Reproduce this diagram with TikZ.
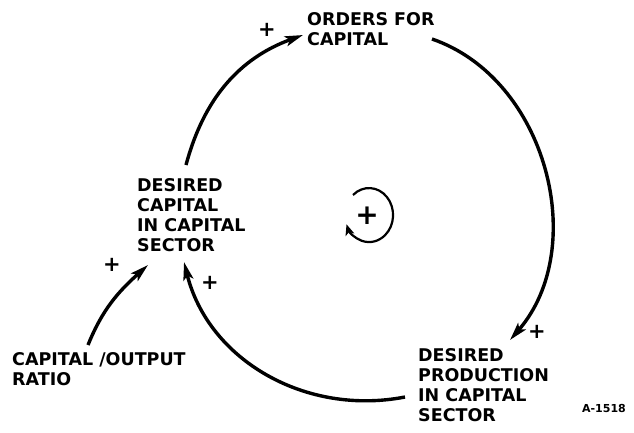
\documentclass[tikz,border=0pt]{standalone}
\usepackage{fontspec}
\setmainfont{DejaVu Sans}
\usetikzlibrary{arrows.meta}
\tikzset{
  >={Stealth[length=18pt,width=10pt,inset=4pt]},
  % text
  lbl/.style={anchor=north west,inner sep=0pt,align=left,
              font=\fontsize{17.5}{20}\selectfont\bfseries},
  sgn/.style={inner sep=0pt,font=\fontsize{21}{21}\selectfont\bfseries},
  tag/.style={inner sep=0pt,font=\fontsize{11}{11}\selectfont\bfseries},
  % pilar
  lnk/.style={->,draw=black,line width=3.4pt},
  ring/.style={-{Stealth[length=11pt,width=9pt,inset=3pt]},draw=black,line width=2.2pt},
}
\begin{document}
\begin{tikzpicture}[x=1pt,y=1pt]
  \useasboundingbox (0,0) rectangle (634,432);
  \node[lbl] (orders) at (307,420) {ORDERS FOR\\CAPITAL};
  \node[lbl] (dcap) at (137,254) {DESIRED\\CAPITAL\\IN CAPITAL\\SECTOR};
  \node[lbl] (ratio) at (12,80) {CAPITAL /OUTPUT\\RATIO};
  \node[lbl] (dprod) at (418,84) {DESIRED\\PRODUCTION\\IN CAPITAL\\SECTOR};
  \node[tag] (code) at (604,24) {A-1518};
  % ändpunkter på slingan
  \coordinate (p1) at (186,267);
  \coordinate (p2) at (303,397);
  \coordinate (p3) at (432,393);
  \coordinate (p4) at (510,92);
  \coordinate (p5) at (405,35);
  \coordinate (p6) at (184,170);
  \coordinate (r1) at (88,87);
  \coordinate (r2) at (148,167);
  \draw[lnk] (p1) to[out=75,in=200] (p2);
  \draw[lnk] (p3) to[out=-19,in=49] (p4);
  \draw[lnk] (p5) to[out=191,in=284] (p6);
  \draw[lnk] (r1) to[out=68,in=222] (r2);
  \node[sgn] (s1) at (267,402) {+};
  \node[sgn] (s2) at (537,100) {+};
  \node[sgn] (s3) at (210,149) {+};
  \node[sgn] (s4) at (112,167) {+};
  % mitten
  \node[font=\fontsize{28}{28}\selectfont\bfseries,inner sep=0pt] (pos) at (367,216) {+};
  \coordinate (ringbeg) at (353,237);
  \draw[ring] (ringbeg) arc[start angle=132,end angle=-160,x radius=24,y radius=27];
\end{tikzpicture}
\end{document}
